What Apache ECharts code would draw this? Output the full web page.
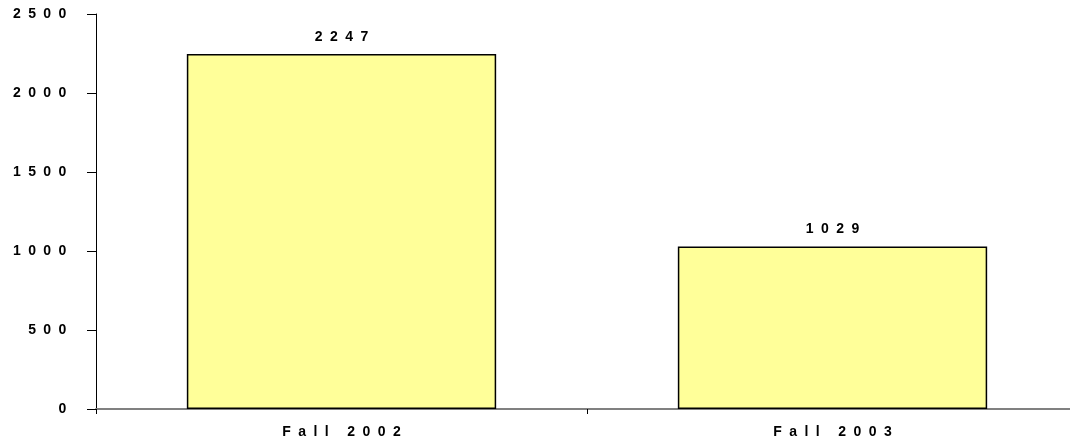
<!DOCTYPE html>
<html>
<head>
<meta charset="utf-8">
<script src="https://cdn.jsdelivr.net/npm/echarts@6/dist/echarts.min.js"></script>
<style>
  html, body { margin: 0; padding: 0; background: #fff; }
  #chart { width: 1070px; height: 444px; }
</style>
</head>
<body>
<div id="chart"></div>
<script>
// data
var categories = ['Fall 2002', 'Fall 2003'];
var values = [2247, 1029];
var yMin = 0, yMax = 2500, yStep = 500;

// wide letter spacing like the original: every char in its own padded box
function spaced(s) {
    return String(s).split('').map(function (c) {
        return '{c|' + c + '}';
    }).join('');
}
var charBox = {
    c: {
        fontFamily: 'Liberation Sans, Arial, sans-serif',
        fontWeight: 'bold',
        fontSize: 14,
        color: '#000',
        padding: [0, 3.7]
    }
};

(function(){
    var myChart = echarts.init(document.getElementById('chart'));
    var option = {
        animation: false,
        backgroundColor: '#fff',
        grid: {
            left: 96,
            top: 14,
            width: 982,   // plot runs a bit past the right edge, as in the original
            bottom: 35,
            containLabel: false,
            outerBoundsMode: 'none'
        },
        xAxis: {
            type: 'category',
            data: categories,
            boundaryGap: true,
            axisLine: {
                lineStyle: { color: '#808080', width: 2 }
            },
            axisTick: {
                show: true,
                length: 5,
                lineStyle: { color: '#000', width: 1 }
            },
            axisLabel: {
                margin: 16,
                formatter: function (v) { return spaced(v); },
                rich: charBox
            },
            splitLine: { show: false }
        },
        yAxis: {
            type: 'value',
            min: yMin,
            max: yMax,
            interval: yStep,
            axisLine: {
                show: true,
                lineStyle: { color: '#000', width: 1 }
            },
            axisTick: {
                show: true,
                length: 9,
                lineStyle: { color: '#000', width: 1 }
            },
            axisLabel: {
                margin: 26,
                formatter: function (v) { return spaced(v); },
                rich: charBox
            },
            splitLine: { show: false }
        },
        series: [
            {
                type: 'bar',
                data: values,
                barWidth: '63%',
                itemStyle: {
                    color: '#FFFF99',
                    borderColor: '#000',
                    borderWidth: 1.5
                },
                label: {
                    show: true,
                    position: 'top',
                    distance: 10,
                    formatter: function (p) { return spaced(p.value); },
                    rich: charBox
                }
            }
        ]
    };
    myChart.setOption(option);
    window.addEventListener('resize', function(){
        myChart.resize();
    });
})();
</script>
</body>
</html>
